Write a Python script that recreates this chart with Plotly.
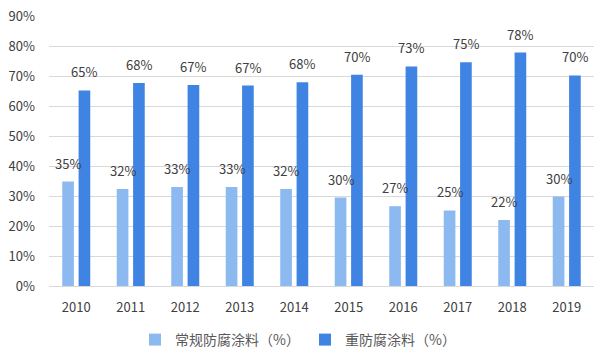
import plotly.graph_objects as go

years = ["2010", "2011", "2012", "2013", "2014", "2015", "2016", "2017", "2018", "2019"]
conventional = [34.8, 32.3, 33.0, 33.0, 32.3, 29.5, 26.6, 25.2, 22.0, 29.8]
heavy = [65.2, 67.7, 67.0, 66.8, 67.9, 70.4, 73.2, 74.6, 77.8, 70.2]
conventional_labels = ["35%", "32%", "33%", "33%", "32%", "30%", "27%", "25%", "22%", "30%"]
heavy_labels = ["65%", "68%", "67%", "67%", "68%", "70%", "73%", "75%", "78%", "70%"]
y_ticks = [0, 10, 20, 30, 40, 50, 60, 70, 80, 90]
y_tick_text = [f"{v}%" for v in y_ticks]

FONT = "Noto Sans CJK SC, Microsoft YaHei, sans-serif"
LIGHT = "#8DB9F1"
DARK = "#3F84E3"
TXT = "#404040"

fig = go.Figure()
fig.add_trace(go.Bar(x=years, y=conventional, name="常规防腐涂料（%）",
                     marker=dict(color=LIGHT, line=dict(width=0))))
fig.add_trace(go.Bar(x=years, y=heavy, name="重防腐涂料（%）",
                     marker=dict(color=DARK, line=dict(width=0))))

annotations = []
for i, y in enumerate(years):
    annotations.append(dict(x=i, y=conventional[i], text=conventional_labels[i],
                            xref="x", yref="y", showarrow=False, xshift=-8.2,
                            yanchor="bottom", yshift=7,
                            font=dict(size=13, color=TXT, family=FONT)))
    annotations.append(dict(x=i, y=heavy[i], text=heavy_labels[i],
                            xref="x", yref="y", showarrow=False, xshift=8.2,
                            yanchor="bottom", yshift=7,
                            font=dict(size=13, color=TXT, family=FONT)))

fig.update_layout(
    width=609, height=359,
    margin=dict(l=49, r=15, t=16, b=73, autoexpand=False),
    paper_bgcolor="white", plot_bgcolor="white",
    barmode="group", bargap=0.40, bargroupgap=0.287,
    font=dict(family=FONT, size=12, color=TXT),
    annotations=annotations,
    showlegend=True,
    legend=dict(orientation="h", xref="container", yref="container",
                x=135 / 609, xanchor="left", y=1 - 340 / 359, yanchor="middle",
                font=dict(size=14, color="#595959", family=FONT),
                itemwidth=30, traceorder="normal",
                entrywidth=125, entrywidthmode="pixels"),
    xaxis=dict(type="category", range=[-0.5, len(years) - 0.5], automargin=False,
               showgrid=False, showline=False, ticks="", ticklabelstandoff=12,
               tickfont=dict(size=13, color=TXT)),
    yaxis=dict(range=[0, 90], tickvals=y_ticks, ticktext=y_tick_text, automargin=False,
               showgrid=True, gridcolor="#D9D9D9", gridwidth=1,
               zeroline=True, zerolinecolor="#D9D9D9", zerolinewidth=1,
               showline=False, ticks="", ticklabelstandoff=13,
               tickfont=dict(size=13, color=TXT)),
)

fig.write_html("out.html")
